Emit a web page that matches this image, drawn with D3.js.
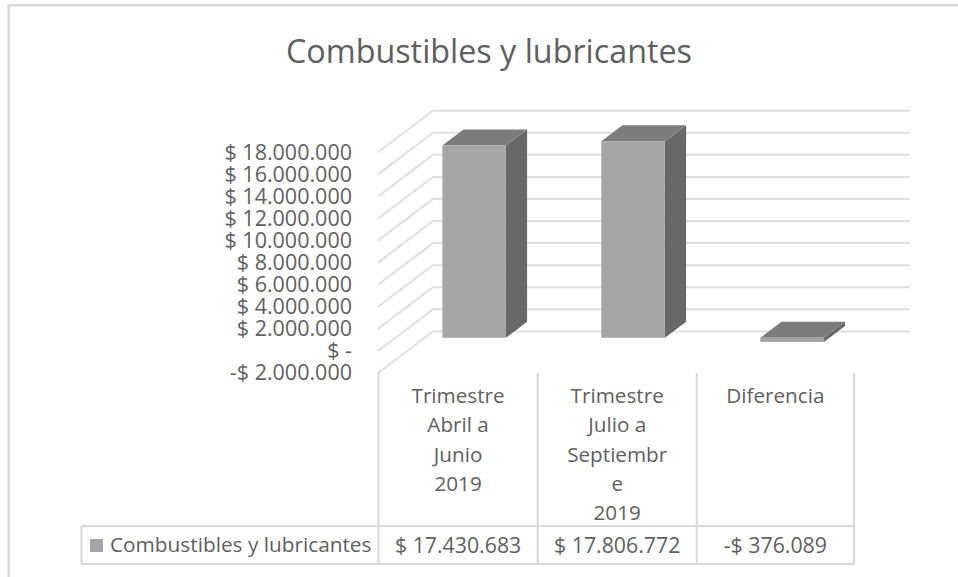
<!DOCTYPE html>
<html>
<head>
<meta charset="utf-8">
<script src="https://cdn.jsdelivr.net/npm/d3@7"></script>
<style>
  html, body { margin: 0; padding: 0; background: #fff; }
  text { font-family: "Open Sans", sans-serif; fill: #5f5f5f; }
</style>
</head>
<body>
<div id="container"></div>
<script>
/* DATA */
const title = "Combustibles y lubricantes"
const seriesName = "Combustibles y lubricantes"
const categories = ["abr-jun", "jul-sep", "dif"]
const categoryLines = [
  ["Trimestre", "Abril a", "Junio", "2019"],
  ["Trimestre", "Julio a", "Septiembr", "e", "2019"],
  ["Diferencia"]
]
const values = [17430683, 17806772, -376089]
const valueLabels = ["$ 17.430.683", "$ 17.806.772", "-$ 376.089"]
const tickValues = [18000000, 16000000, 14000000, 12000000, 10000000, 8000000, 6000000, 4000000, 2000000, 0, -2000000]
const tickLabels = ["$ 18.000.000", "$ 16.000.000", "$ 14.000.000", "$ 12.000.000", "$ 10.000.000", "$ 8.000.000", "$ 6.000.000", "$ 4.000.000", "$ 2.000.000", "$ -", "-$ 2.000.000"]

/* CONSTANTS */
const width = 958,
  height = 577,
  grey = "#d9d9d9",
  backShift = { x: 55, y: -41.6 },  // front plane -> back wall
  barDepth = [0.315, 0.7],          // bars sit in the middle of the floor
  tableTop = 526,
  tableBottom = 564,
  tableLeft = 81.5

/* SCALES */
const xScale = d3.scaleBand()
  .domain(categories)
  .range([377.3, 854.3])
  .paddingInner(0.6)
  .paddingOuter(0.3)

const yScale = d3.scaleLinear()
  .domain([-2000000, 18000000])
  .range([373, 152.3])

// x,y of a point given front x, value and depth (0 front, 1 back)
const project = (x, v, depth) => [x + backShift.x * depth, yScale(v) + backShift.y * depth]
const poly = d3.line()

/* SVG */
const svg = d3.select("#container")
  .append("svg")
  .attr("width", width)
  .attr("height", height)
  .style("display", "block")

// outer frame
svg.append("path")
  .attr("d", "M8.7,577V5.3H958")
  .attr("fill", "none")
  .attr("stroke", grey)
  .attr("stroke-width", 2.5)

svg.append("text")
  .attr("x", 489)
  .attr("y", 63)
  .attr("text-anchor", "middle")
  .style("font-size", "32.3px")
  .text(title)

// grid: side wall + back wall
svg.selectAll("path.grid")
  .data(tickValues)
  .join("path")
  .attr("class", "grid")
  .attr("d", d => poly([project(378, d, 0), project(378, d, 1), project(855, d, 1)]))
  .attr("fill", "none")
  .attr("stroke", "#e0e0e0")
  .attr("stroke-width", 2)

// y axis
const yAxis = d3.axisLeft(yScale)
  .tickValues(tickValues)
  .tickFormat((d, i) => tickLabels[i])
  .tickSize(0)
  .tickPadding(26)

svg.append("g")
  .attr("transform", "translate(378,0)")
  .call(yAxis)
  .call(g => g.select(".domain").remove())
  .call(g => g.selectAll("text").style("font-size", "21.5px").style("font-family", null))

/* BARS */
const bars = svg.selectAll("g.bar")
  .data(values)
  .join("g")
  .attr("class", "bar")

const x0 = (d, i) => xScale(categories[i])
const x1 = (d, i) => xScale(categories[i]) + xScale.bandwidth()
const hi = d => Math.max(d, 0)
const lo = d => Math.min(d, 0)

// side
bars.append("path")
  .attr("fill", "#686868")
  .attr("d", (d, i) => poly([
    project(x1(d, i), hi(d), barDepth[0]),
    project(x1(d, i), hi(d), barDepth[1]),
    project(x1(d, i), lo(d), barDepth[1]),
    project(x1(d, i), lo(d), barDepth[0])
  ]) + "Z")

// top
bars.append("path")
  .attr("fill", "#7c7c7c")
  .attr("d", (d, i) => poly([
    project(x0(d, i), hi(d), barDepth[0]),
    project(x0(d, i), hi(d), barDepth[1]),
    project(x1(d, i), hi(d), barDepth[1]),
    project(x1(d, i), hi(d), barDepth[0])
  ]) + "Z")

// front
bars.append("path")
  .attr("fill", "#a5a5a5")
  .attr("d", (d, i) => poly([
    project(x0(d, i), hi(d), barDepth[0]),
    project(x1(d, i), hi(d), barDepth[0]),
    project(x1(d, i), lo(d), barDepth[0]),
    project(x0(d, i), lo(d), barDepth[0])
  ]) + "Z")

/* DATA TABLE */
const columnEdges = [378.5, 537.7, 696.7, 854]
const columnMid = i => (columnEdges[i] + columnEdges[i + 1]) / 2

svg.selectAll("line.col")
  .data(columnEdges)
  .join("line")
  .attr("class", "col")
  .attr("x1", d => d)
  .attr("x2", d => d)
  .attr("y1", 373)
  .attr("y2", tableBottom)
  .attr("stroke", grey)
  .attr("stroke-width", 2)

svg.append("path")
  .attr("d", `M${tableLeft},${tableTop}H854M${tableLeft},${tableBottom}H854M${tableLeft},${tableTop}V${tableBottom}`)
  .attr("fill", "none")
  .attr("stroke", grey)
  .attr("stroke-width", 2)

svg.selectAll("text.cat")
  .data(categoryLines.flatMap((lines, i) => lines.map((t, j) => ({ t, i, j }))))
  .join("text")
  .attr("class", "cat")
  .attr("x", d => columnMid(d.i))
  .attr("y", d => 403 + d.j * 29.3)
  .attr("text-anchor", "middle")
  .style("font-size", "20.7px")
  .text(d => d.t)

svg.selectAll("text.val")
  .data(valueLabels)
  .join("text")
  .attr("class", "val")
  .attr("x", (d, i) => columnMid(i))
  .attr("y", 553)
  .attr("text-anchor", "middle")
  .style("font-size", "21.3px")
  .text(d => d)

// legend key and series name
svg.append("rect")
  .attr("x", 90)
  .attr("y", 539)
  .attr("width", 13)
  .attr("height", 13)
  .attr("fill", "#a5a5a5")

svg.append("text")
  .attr("x", 110)
  .attr("y", 552)
  .style("font-size", "20.8px")
  .text(seriesName)
</script>
</body>
</html>
